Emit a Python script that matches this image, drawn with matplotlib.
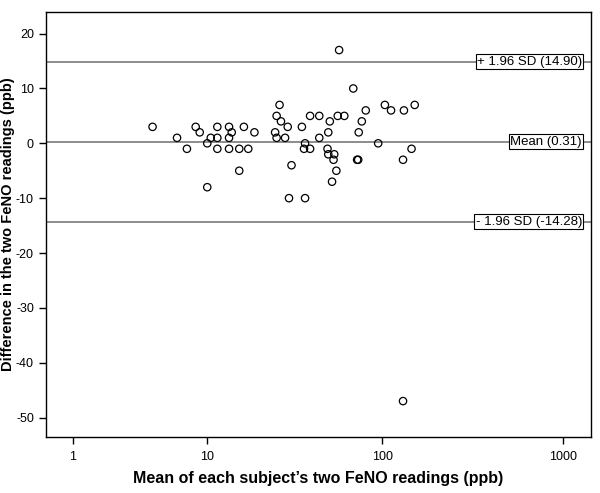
import numpy as np
import matplotlib
matplotlib.use("Agg")
import matplotlib.pyplot as plt

plt.rcParams['font.family'] = ['Liberation Sans', 'DejaVu Sans']
plt.rcParams['axes.unicode_minus'] = False

# mean of the two readings (ppb) and their difference (ppb)
mean_ppb = [4.5, 6.5, 7.5, 8.5, 9, 10, 10.5, 10, 11.5, 11.5, 11.5, 13.5, 14, 13.5, 13.5,
            15.5, 15.5, 16.5, 17.5, 19,
            26.5, 25.5, 27, 29.5, 25, 25.5, 28.5, 35.5, 39.5, 44.5, 51, 56.5, 61.5,
            81, 77, 74, 103.5, 112, 132, 151.5, 37, 36.5, 39.5, 44.5, 50, 49.5, 50,
            54, 53.5, 55.5, 52.5, 72.5, 73.5, 95, 130.5, 145.5, 31, 30, 37, 69,
            57.5, 130.5]
diff_ppb = [3, 1, -1, 3, 2, 0, 1, -8, 3, 1, -1, 3, 2, 1, -1,
            -1, -5, 3, -1, 2,
            7, 5, 4, 3, 2, 1, 1, 3, 5, 5, 4, 5, 5,
            6, 4, 2, 7, 6, 6, 7, 0, -1, -1, 1, 2, -1, -2,
            -2, -3, -5, -7, -3, -3, 0, -3, -1, -4, -10, -10, 10,
            17, -47]

mean_diff = 0.31
upper = 14.90
lower = -14.28
ref_values = [upper, mean_diff, lower]
ref_labels = ['+ 1.96 SD (14.90)', 'Mean (0.31)', '- 1.96 SD (-14.28)']

fig = plt.figure(figsize=(6, 4.93), dpi=100)
ax = fig.add_axes([0.0762, 0.1130, 0.9083, 0.8633])

fwd = lambda x: np.log10(np.maximum(np.asarray(x, dtype=float) + 1, 1e-12))
inv = lambda y: 10 ** np.asarray(y, dtype=float) - 1
ax.set_xscale('function', functions=(fwd, inv))

for v, lab in zip(ref_values, ref_labels):
    ax.axhline(v, color='#6e6e6e', lw=1.1, zorder=1)
    ax.text(0.984, v, lab, transform=ax.get_yaxis_transform(), ha='right', va='center',
            fontsize=9.5, zorder=3,
            bbox=dict(boxstyle='square,pad=0.1', fc='white', ec='black', lw=0.8))

ax.scatter(mean_ppb, diff_ppb, s=28, facecolors='none', edgecolors='black',
           linewidths=0.9, zorder=2)

ax.set_xlim(0.42, 1418)
ax.set_ylim(-53.6, 24)
ax.set_xticks([1, 10, 100, 1000])
ax.set_xticklabels(['1', '10', '100', '1000'])
ax.xaxis.set_minor_locator(matplotlib.ticker.NullLocator())
ax.set_yticks([-50, -40, -30, -20, -10, 0, 10, 20])
ax.tick_params(direction='out', length=5, width=1, labelsize=9, colors='black')
ax.tick_params(axis='x', pad=5)

for sp in ax.spines.values():
    sp.set_linewidth(1)

ax.set_xlabel('Mean of each subject\u2019s two FeNO readings (ppb)', fontsize=11.5,
              fontweight='bold')
ax.xaxis.set_label_coords(0.5, -0.079)
ax.set_ylabel('Difference in the two FeNO readings (ppb)', fontsize=10.5,
              fontweight='bold')
ax.yaxis.set_label_coords(-0.056, 0.5)

fig.savefig('out.png', dpi=100)
